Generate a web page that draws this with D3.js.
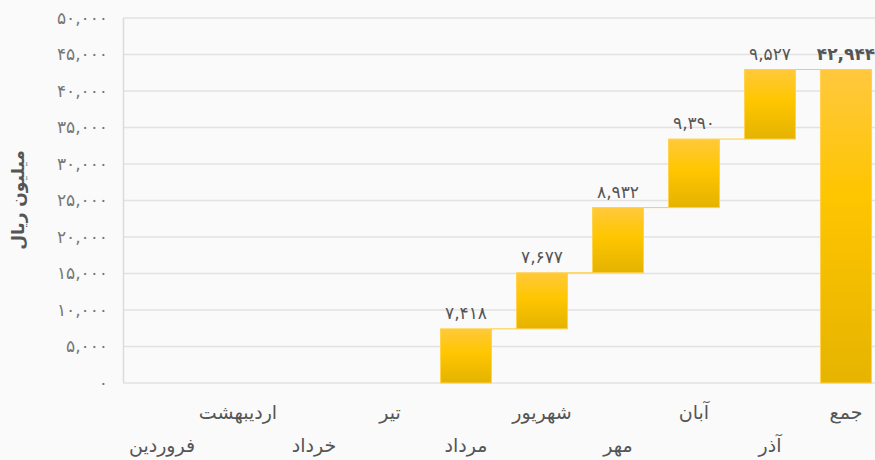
<!DOCTYPE html>
<html>
<head>
<meta charset="utf-8">
<script src="https://cdn.jsdelivr.net/npm/d3@7"></script>
<style>
	body { margin: 0; background: #fafafa; }
	svg { display: block; font-family: "DejaVu Sans", sans-serif; }
</style>
</head>
<body>
<svg id="chart" width="875" height="460"></svg>
<script>
const WIDTH = 875,
	  HEIGHT = 460;

// months of the year plus the total
const categories = ["فروردین", "اردیبهشت", "خرداد", "تیر", "مرداد", "شهریور", "مهر", "آبان", "آذر", "جمع"];
const monthValues = [0, 0, 0, 0, 7418, 7677, 8932, 9390, 9527];
const totalValue = 42944;
const yTicks = [0, 5000, 10000, 15000, 20000, 25000, 30000, 35000, 40000, 45000, 50000];
const yTitle = "میلیون ریال";

// persian digits
const faDigits = "۰۱۲۳۴۵۶۷۸۹";
function toFa(n) {
	return d3.format(",")(n).replace(/[0-9]/g, d => faDigits[+d]);
}

let svg = d3.select("#chart");

let x = d3.scaleBand()
		.domain(categories)
		.range([124, 884])
		.paddingInner(0.33)
		.paddingOuter(0.165);

let y = d3.scaleLinear()
		.domain([0, 50000])
		.range([383, 18]);

// gradients for the bars
let defs = svg.append("defs");

function addGradient(id, stops) {
	let g = defs.append("linearGradient")
			.attr("id", id)
			.attr("x1", 0).attr("y1", 0)
			.attr("x2", 0).attr("y2", 1);
	stops.forEach(s => {
		g.append("stop").attr("offset", s[0]).attr("stop-color", s[1]);
	});
}
addGradient("barGrad", [["0%", "#ffc93a"], ["45%", "#ffc600"], ["100%", "#e4b300"]]);
addGradient("totalGrad", [["0%", "#ffc83e"], ["40%", "#fec500"], ["100%", "#e6b400"]]);

// grid
svg.append("g")
	.selectAll("line")
	.data(yTicks)
	.join("line")
		.attr("x1", 123)
		.attr("x2", WIDTH)
		.attr("y1", d => y(d))
		.attr("y2", d => y(d))
		.attr("stroke", "#e2e2e2")
		.attr("stroke-width", 1.5);

svg.append("line")
	.attr("x1", 123.5).attr("x2", 123.5)
	.attr("y1", y(50000)).attr("y2", y(0))
	.attr("stroke", "#dcdcdc")
	.attr("stroke-width", 1.5);

// y axis labels
svg.append("g")
	.selectAll("text")
	.data(yTicks)
	.join("text")
		.attr("x", 108)
		.attr("y", d => y(d))
		.attr("dy", "0.35em")
		.attr("text-anchor", "end")
		.style("font-size", "17px")
		.style("fill", "#777")
		.text(d => toFa(d));

svg.append("text")
	.attr("transform", "translate(24," + 200 + ") rotate(-90)")
	.attr("text-anchor", "middle")
	.style("font-size", "17px")
	.style("font-weight", "bold")
	.style("fill", "#555")
	.text(yTitle);

// waterfall steps
let steps = [];
let running = 0;
monthValues.forEach((v, i) => {
	steps.push({cat: categories[i], start: running, end: running + v, value: v, total: false});
	running += v;
});
steps.push({cat: categories[categories.length - 1], start: 0, end: totalValue, value: totalValue, total: true});

// connectors between bars
for (let i = 0; i < steps.length - 1; i ++) {
	let cur = steps[i],
		next = steps[i + 1];
	if (cur.value == 0) continue;
	svg.append("line")
		.attr("x1", x(cur.cat) + x.bandwidth())
		.attr("x2", x(next.cat))
		.attr("y1", y(cur.end))
		.attr("y2", y(cur.end))
		.attr("stroke", "#ffcc33")
		.attr("stroke-width", 1);
}

// bars
svg.append("g")
	.selectAll("rect")
	.data(steps.filter(d => d.value > 0))
	.join("rect")
		.attr("x", d => x(d.cat))
		.attr("y", d => y(d.end))
		.attr("width", x.bandwidth())
		.attr("height", d => y(d.start) - y(d.end))
		.attr("fill", d => d.total ? "url(#totalGrad)" : "url(#barGrad)")
		.attr("stroke", "#ffd24d")
		.attr("stroke-width", 1);

// value labels
svg.append("g")
	.selectAll("text")
	.data(steps.filter(d => d.value > 0))
	.join("text")
		.attr("x", d => x(d.cat) + x.bandwidth() / 2)
		.attr("y", d => y(d.end) - 10)
		.attr("text-anchor", "middle")
		.style("font-size", "17px")
		.style("font-weight", d => d.total ? "bold" : "normal")
		.style("fill", "#555")
		.text(d => toFa(d.value));

// category labels in two rows
svg.append("g")
	.selectAll("text")
	.data(categories)
	.join("text")
		.attr("x", d => x(d) + x.bandwidth() / 2)
		.attr("y", (d, i) => i % 2 == 0 ? 452 : 419)
		.attr("text-anchor", "middle")
		.style("font-size", "19px")
		.style("fill", "#555")
		.text(d => d);
</script>
</body>
</html>
